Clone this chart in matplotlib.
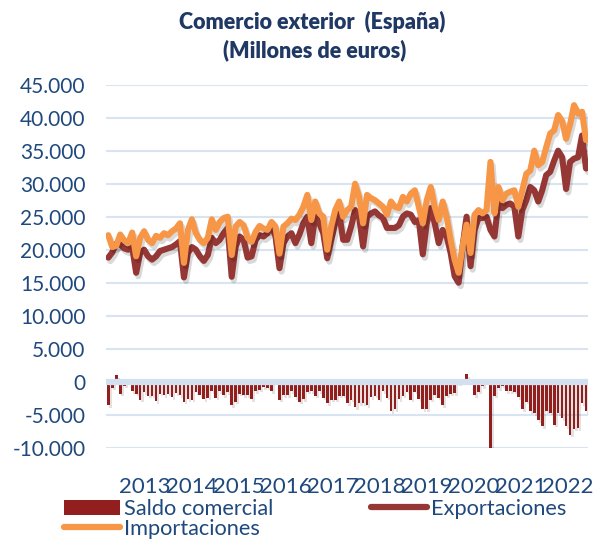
import matplotlib
matplotlib.use("Agg")
import matplotlib.pyplot as plt
import matplotlib.patheffects as pe
from matplotlib.patches import Patch
from matplotlib.lines import Line2D

# monthly data, Jan 2013 .. Jan 2023 (millones de euros)
years = ["2013", "2014", "2015", "2016", "2017", "2018", "2019", "2020", "2021", "2022"]

exportaciones = [
    18800, 19600, 20900, 20800, 20200, 20000, 20400, 16500, 19500, 20000, 19000, 18500,
    19000, 19800, 20000, 20200, 20400, 20800, 21300, 15800, 19500, 20400, 20000, 19000,
    18300, 19200, 21800, 21000, 21500, 22500, 23300, 15900, 20500, 22000, 21500, 18800,
    19000, 21500, 22200, 22000, 22500, 23700, 22000, 17200, 21000, 22000, 22500, 21000,
    22300, 24000, 25000, 21000, 25000, 24000, 22500, 18700, 21500, 24000, 25500, 21500,
    21500, 23500, 26000, 25000, 20500, 25000, 25500, 25800, 25200, 24800, 23300, 23300,
    23300, 23700, 25000, 25500, 25300, 24200, 24500, 19300, 24000, 26300, 24000, 21000,
    23000, 22000, 19500, 16000, 15000, 20500, 25000, 17500, 23000, 24800, 24800, 25000,
    23000, 22000, 27300, 26300, 26800, 27000, 26500, 22000, 26000, 27500, 29500, 29000,
    27300, 29000, 31300, 31800, 33500, 35000, 34000, 29200, 33300, 33800, 34000, 37300,
    32300,
]

importaciones = [
    22200, 20400, 20600, 22300, 21400, 21000, 22600, 19000, 21800, 22800, 21500, 21000,
    22100, 21800, 22500, 22200, 22800, 23200, 24000, 18000, 23000, 24600, 22500, 21500,
    21000, 21800, 24600, 23000, 24200, 24800, 25000, 19200, 23500, 24200, 23700, 21800,
    21200, 22700, 23600, 23200, 23000, 24200, 23500, 19400, 23500, 24000, 24700, 24500,
    25300, 26500, 28300, 24500, 27300, 25500, 25000, 20000, 23500, 26000, 27300, 25000,
    26000, 26500, 30000, 28000, 24000, 28300, 27800, 27500, 27000, 26500, 25300, 27300,
    26500, 26300, 28000, 27300, 28500, 29000, 26500, 24000, 27500, 29500, 26500, 24500,
    27300, 25000, 21500, 18500, 16500, 20500, 23800, 19500, 25300, 26000, 25500, 26000,
    33300, 25500, 29500, 27500, 28500, 28800, 29000, 26500, 29000, 31500, 32000, 35000,
    32800, 33300, 35500, 37600, 38100, 40400, 39500, 36800, 39000, 41900, 40600, 40900,
    36600,
]

saldo = [
    -3500, -900, 1000, -1800, -600, -100, -1400, -1800, -2700, -1600, -2100, -2100,
    -2900, -1800, -2000, -1800, -2300, -1700, -2000, -3000, -2600, -2700, -1600, -2000,
    -2600, -2400, -1400, -2400, -1400, -2000, -1600, -3500, -3000, -1800, -2000, -2000,
    -2600, -1400, -1200, -800, -900, -1400, -100, -2700, -2000, -2000, -1400, -2300,
    -3000, -2600, -1500, -1400, -2100, -1400, -2400, -3300, -2700, -2700, -2100, -2100,
    -3300, -2700, -3900, -3200, -3200, -3600, -2300, -2100, -2700, -1400, -2400, -4400,
    -4100, -2600, -2100, -1500, -2700, -1500, -2600, -4200, -4100, -2700, -2000, -2400,
    -3600, -2100, -1800, -1700, -200, 0, 1200, 0, -2000, -1500, -700, 0,
    -10100, -2100, -1000, -600, -1400, -1400, -1500, -2300, -4200, -3000, -4400, -4800,
    -5800, -6700, -4400, -4700, -6500, -4800, -5500, -6700, -8000, -7100, -7000, -3300,
    -4500,
]

blue = "#1F497D"
title_blue = "#1F3864"
c_exp = "#953735"
c_imp = "#F79646"
c_bar = "#931E1E"
grid_c = "#D9E4F2"

plt.rcParams["font.family"] = ["Lato", "DejaVu Sans"]

months = list(range(len(saldo)))

fig = plt.figure(figsize=(5.94, 5.40), dpi=100)
ax = fig.add_axes([106.3 / 594, 1 - 447.7 / 540, 481.7 / 594, 363 / 540])

ax.bar(months, saldo, width=0.68, color=c_bar, zorder=2,
       path_effects=[pe.SimplePatchShadow(offset=(1.5, -2), alpha=0.12), pe.Normal()])
shadow = [pe.SimpleLineShadow(offset=(1.5, -2.5), alpha=0.15), pe.Normal()]
ax.plot(months, exportaciones, color=c_exp, lw=4.4, solid_capstyle="round",
        solid_joinstyle="round", zorder=4, path_effects=shadow)
ax.plot(months, importaciones, color=c_imp, lw=4.4, solid_capstyle="round",
        solid_joinstyle="round", zorder=5, path_effects=shadow)

ax.set_xlim(-0.5, len(saldo) - 0.5)
ax.set_ylim(-10000, 45000)
yt = list(range(-10000, 45001, 5000))
ax.set_yticks(yt)
ax.set_yticklabels([f"{v:,}".replace(",", ".") for v in yt])
for v in yt:
    if v == 0:
        ax.axhline(0, color="#D3E0F0", lw=4.5, zorder=3)
    else:
        ax.axhline(v, color=grid_c, lw=1.5, zorder=1)

# year labels sit packed side by side under the plot, as in the source
ax.set_xticks([9.1 + 11.8 * k for k in range(len(years))])
ax.set_xticklabels(years)
ax.tick_params(axis="y", length=0, pad=15, labelsize=15, labelcolor=blue)
ax.tick_params(axis="x", length=0, pad=21, labelsize=16, labelcolor=blue)
for s in ax.spines.values():
    s.set_visible(False)

fig.text(0.525, 1 - 22 / 540, "Comercio exterior  (España)", ha="center", va="center",
         fontsize=15.5, fontweight="heavy", color=title_blue)
fig.text(0.53, 1 - 50 / 540, "(Millones de euros)", ha="center", va="center",
         fontsize=15.5, fontweight="heavy", color=title_blue)

handles = [
    Patch(facecolor=c_bar, edgecolor="none"),
    Line2D([], [], color=c_imp, lw=4.5, solid_capstyle="round"),
    Line2D([], [], color=c_exp, lw=4.5, solid_capstyle="round"),
]
labels = ["Saldo comercial", "Importaciones", "Exportaciones"]
fig.legend(handles, labels, loc="upper left", bbox_to_anchor=(64 / 594, 1 - 499 / 540),
           ncol=2, frameon=False, fontsize=15.7, labelcolor=blue, handlelength=2.55,
           handleheight=0.7, handletextpad=0.2, columnspacing=4.5, labelspacing=0.0,
           borderpad=0, borderaxespad=0)

fig.savefig("out.png", dpi=100)
